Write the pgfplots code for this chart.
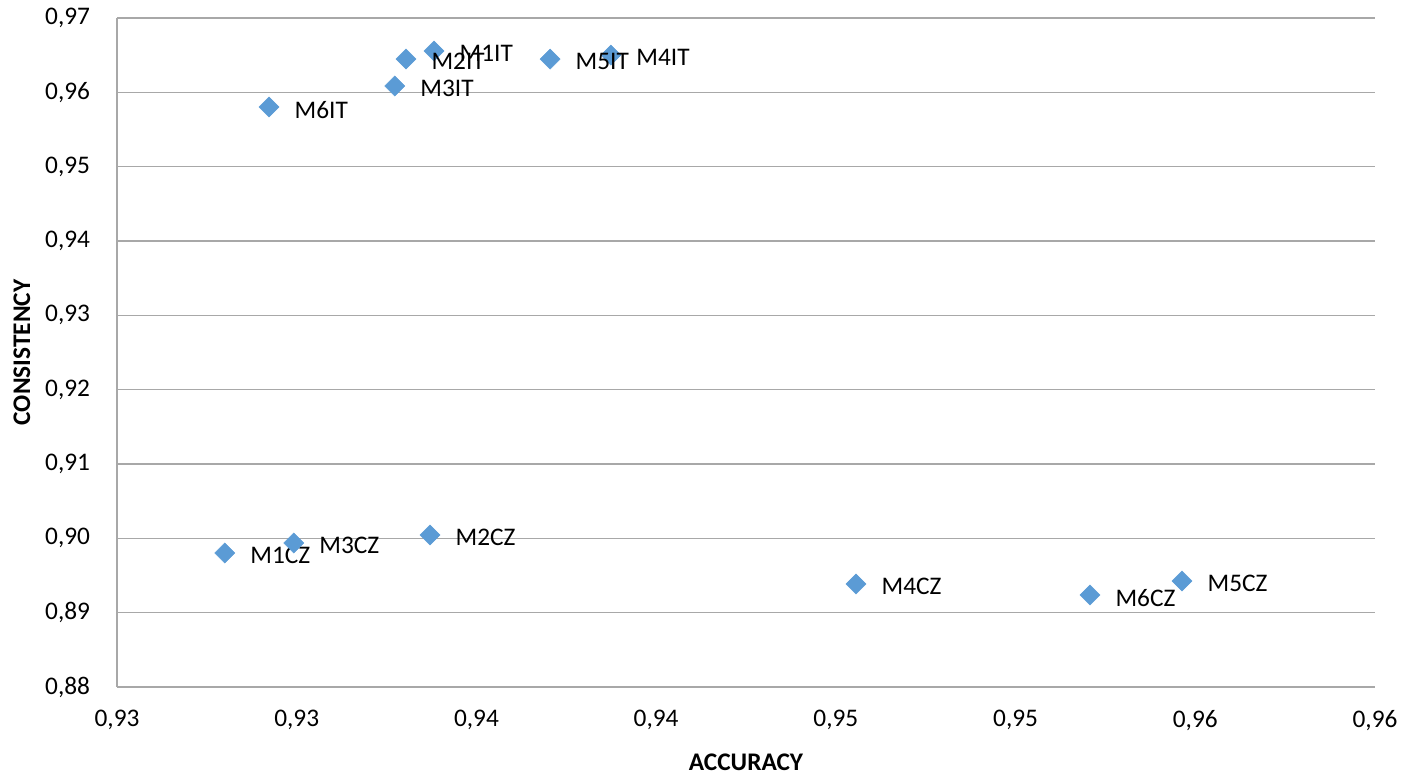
\documentclass[border=0pt]{standalone}
\usepackage{fontspec}
\setmainfont{Carlito}
\usepackage{pgfplots}
\pgfplotsset{compat=1.18}
\usepackage{pgfplotstable}
\definecolor{ptblue}{HTML}{5B9BD5}
\definecolor{gridgray}{RGB}{168,168,168}
\pgfplotstableread{
x y lab
0.93382 0.96556 M1IT
0.93304 0.96448 M2IT
0.93273 0.96085 M3IT
0.93874 0.96502 M4IT
0.93705 0.96448 M5IT
0.92923 0.95803 M6IT
0.92800 0.89803 M1CZ
0.93371 0.90045 M2CZ
0.92992 0.89937 M3CZ
0.94556 0.89386 M4CZ
0.95463 0.89426 M5CZ
0.95207 0.89238 M6CZ
}\datatable
\begin{document}
\begin{tikzpicture}
\begin{axis}[
  at={(0,0)}, anchor=south west,
  scale only axis, width=943.5pt, height=501.75pt,
  xmin=0.925, xmax=0.96, ymin=0.88, ymax=0.97,
  xtick={0.925,0.93,0.935,0.94,0.945,0.95,0.955,0.96},
  ytick={0.88,0.89,0.90,0.91,0.92,0.93,0.94,0.95,0.96,0.97},
  xticklabels={{0,93},{0,93},{0,94},{0,94},{0,95},{0,95},{0,96},{0,96}},
  /pgf/number format/use comma,
  /pgf/number format/fixed,
  /pgf/number format/fixed zerofill,
  /pgf/number format/precision=2,
  /pgf/number format/assume math mode=true,
  major tick length=0pt,
  ymajorgrids, grid style={gridgray, line width=1.1pt},
  axis x line*=bottom, axis y line*=left,
  axis line style={gridgray, line width=1.1pt, -},
  tick label style={font=\fontsize{19}{23}\selectfont, text=black},
  yticklabel style={anchor=east, inner sep=0pt, xshift=-20pt},
  xticklabel style={anchor=north, inner sep=0pt, yshift=-17pt},
  xlabel={ACCURACY}, ylabel={CONSISTENCY},
  label style={font=\fontsize{19}{23}\selectfont\bfseries},
  xlabel style={at={(axis description cs:0.5,-0.1121)}, anchor=center},
  ylabel style={at={(axis description cs:-0.0755,0.5)}, anchor=center},
  clip=false,
]
\addplot[only marks, mark=square*, mark size=5.3pt, mark options={rotate=45, fill=ptblue, draw=ptblue},
  nodes near coords, point meta=explicit symbolic,
  nodes near coords style={anchor=west, inner sep=0pt, xshift=19pt, yshift=-2pt, font=\fontsize{19}{23}\selectfont, text=black}]
  table[x=x, y=y, meta=lab] {\datatable};
\end{axis}
\pgfresetboundingbox
\path[use as bounding box] (-87.75pt,-66.75pt) rectangle (966pt,515.25pt);
\end{tikzpicture}
\end{document}
